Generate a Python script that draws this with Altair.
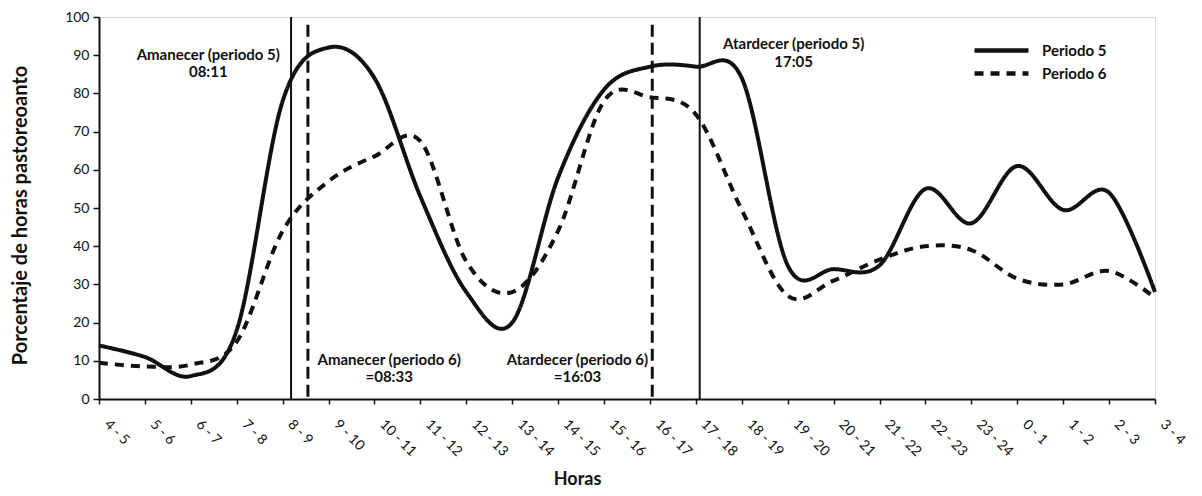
import altair as alt
import pandas as pd

# ---------------- data ----------------
categories = ["4 - 5", "5 - 6", "6 - 7", "7 - 8", "8 - 9", "9 - 10", "10 - 11", "11 - 12",
              "12 - 13", "13 - 14", "14 - 15", "15 - 16", "16 - 17", "17 - 18", "18 - 19",
              "19 - 20", "20 - 21", "21 - 22", "22 - 23", "23 - 24", "0 - 1", "1 - 2",
              "2 - 3", "3 - 4"]
periodo5 = [14, 11, 6, 18, 78, 92, 84, 53, 28, 20, 58, 81, 87, 87, 84, 35, 34, 35, 55, 46, 61, 49.5, 54, 28]
periodo6 = [9.5, 8.5, 9, 15, 44, 57, 63.5, 67.5, 36, 28, 44, 78, 79, 74.5, 49.5, 27, 31, 36.5, 40, 39, 31.5, 30, 33.5, 26.5]
series_names = ["Periodo 5", "Periodo 6"]
y_ticks = [0, 10, 20, 30, 40, 50, 60, 70, 80, 90, 100]

# sunrise / sunset times (hours since 4:00, first category)
event_labels = ["Amanecer (periodo 5)", "Amanecer (periodo 6)", "Atardecer (periodo 6)", "Atardecer (periodo 5)"]
event_times = ["08:11", "08:33", "16:03", "17:05"]
event_dashed = [False, True, True, False]
event_top = [100, 98, 98, 100]

# annotation texts (position in data units: category index, percent)
ann_text = ["Amanecer (periodo 5)", "08:11", "Amanecer (periodo 6)", "=08:33",
            "Atardecer (periodo 6)", "=16:03", "Atardecer (periodo 5)", "17:05"]
ann_x = [2.38, 2.38, 6.32, 6.32, 10.42, 10.42, 15.13, 15.13]
ann_y = [90.0, 85.6, 10.2, 5.8, 10.2, 5.8, 92.9, 88.2]

# ---------------- tables ----------------
rows = []
for i, c in enumerate(categories):
    rows.append({"idx": i, "serie": series_names[0], "valor": periodo5[i]})
    rows.append({"idx": i, "serie": series_names[1], "valor": periodo6[i]})
df = pd.DataFrame(rows)


def to_idx(t):
    h, m = t.split(":")
    return int(h) + int(m) / 60 - 4


ev = pd.DataFrame({
    "label": event_labels,
    "x": [to_idx(t) for t in event_times],
    "dashed": event_dashed,
    "top": event_top,
    "bottom": [0] * 4,
})
ann = pd.DataFrame({"text": ann_text, "x": ann_x, "y": ann_y})

FONT = "Lato"
INK = "#111"
label_expr = "[" + ",".join("'" + c + "'" for c in categories) + "][datum.value]"

xscale = alt.Scale(domain=[0, 23], nice=False, zero=False)
yscale = alt.Scale(domain=[0, 100], nice=False)

x_axis = alt.Axis(
    values=list(range(len(categories))), labelExpr=label_expr, labelAngle=45,
    labelAlign="left", labelBaseline="top", labelPadding=13, labelOffset=12,
    labelFont=FONT, labelFontSize=14, labelColor=INK, labelOverlap=False, labelBound=False,
    tickSize=5, tickColor=INK, tickWidth=1.5, domainColor=INK, domainWidth=2,
    grid=False, title="Horas", titleFont=FONT, titleFontSize=18, titleFontWeight="bold",
    titleColor=INK, titleX=478, titleY=80, titleAnchor="middle", titleBaseline="middle",
)
y_axis = alt.Axis(
    values=y_ticks, tickCount=11, labelFont=FONT, labelFontSize=14,
    labelColor=INK, labelOverlap=False, labelPadding=4, tickSize=6, tickColor=INK,
    tickWidth=1.5, domainColor=INK, domainWidth=2, grid=False,
    title="Porcentaje de horas pastoreoanto", titleFont=FONT, titleFontSize=20,
    titleFontWeight="bold", titleColor=INK, titleX=-79, titleY=198,
    titleAngle=-90, titleAlign="center", titleBaseline="middle",
)

lines = alt.Chart(df).mark_line(interpolate="cardinal", strokeWidth=4, color=INK).encode(
    x=alt.X("idx:Q", scale=xscale, axis=x_axis),
    y=alt.Y("valor:Q", scale=yscale, axis=y_axis),
    strokeDash=alt.StrokeDash(
        "serie:N",
        scale=alt.Scale(domain=series_names, range=[[1, 0], [9, 7]]),
        legend=alt.Legend(
            title=None, orient="none", legendX=895, legendY=26,
            symbolType="M-6,0H6", symbolSize=81, symbolStrokeWidth=4.5,
            symbolStrokeColor=INK, symbolFillColor="transparent",
            labelFont=FONT, labelFontSize=15, labelFontWeight="bold", labelColor=INK,
            labelOffset=33, rowPadding=4, padding=0,
        ),
    ),
)

solid_rules = alt.Chart(ev).transform_filter("!datum.dashed").mark_rule(
    strokeWidth=2, color=INK).encode(
    x=alt.X("x:Q", scale=xscale, axis=x_axis),
    y=alt.Y("top:Q", scale=yscale, axis=y_axis), y2="bottom:Q")
dashed_rules = alt.Chart(ev).transform_filter("datum.dashed").mark_rule(
    strokeWidth=3, color=INK, strokeDash=[12, 6]).encode(
    x=alt.X("x:Q", scale=xscale, axis=x_axis),
    y=alt.Y("top:Q", scale=yscale, axis=y_axis), y2="bottom:Q")

texts = alt.Chart(ann).mark_text(
    font=FONT, fontSize=15, fontWeight="bold", color=INK, align="center", baseline="middle"
).encode(x=alt.X("x:Q", scale=xscale, axis=x_axis),
         y=alt.Y("y:Q", scale=yscale, axis=y_axis), text="text:N")

chart = alt.layer(lines, solid_rules, dashed_rules, texts).properties(
    width=1056, height=382,
    autosize=alt.AutoSizeParams(type="none"),
    padding={"left": 91, "top": 9, "right": 39, "bottom": 89},
).configure_view(stroke="transparent", strokeWidth=0).configure(background="white")

chart.save("out.html", embed_options={"renderer": "svg", "actions": False})
